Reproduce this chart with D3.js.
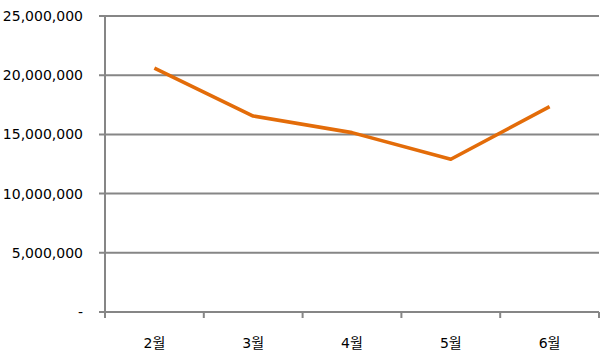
<!DOCTYPE html>
<html><head><meta charset="utf-8">
<script src="https://cdn.jsdelivr.net/npm/d3@7"></script>
<style>body{margin:0;background:#fff}svg{display:block}text{font-family:"DejaVu Sans","Noto Sans CJK KR",sans-serif;fill:#000}</style>
</head><body><svg id="c" width="608" height="361"></svg>
<script>
const categories = ["2월","3월","4월","5월","6월"];
const values = [20600000, 16550000, 15150000, 12900000, 17350000];
const yTicks = [0, 5000000, 10000000, 15000000, 20000000, 25000000];

const svg = d3.select("#c");
const L = 105, R = 599, T = 16, B = 312;
const x = d3.scaleBand().domain(categories).range([L, R]);
const y = d3.scaleLinear().domain([0, 25000000]).range([B, T]);
const grid = "#868686";

// gridlines
svg.append("g").selectAll("line").data(yTicks).join("line")
  .attr("x1", 99).attr("x2", R).attr("y1", d => y(d)).attr("y2", d => y(d))
  .attr("stroke", grid).attr("stroke-width", 2);

// y labels
svg.append("g").selectAll("text").data(yTicks).join("text")
  .attr("x", 83).attr("y", d => y(d)).attr("dy", "0.36em")
  .attr("text-anchor", "end").style("font-size", "14px")
  .text(d => d === 0 ? "-" : d3.format(",")(d));

// y axis line
svg.append("line").attr("x1", L).attr("x2", L).attr("y1", T).attr("y2", B + 6)
  .attr("stroke", grid).attr("stroke-width", 2);

// x axis with ticks
const xAxis = d3.axisBottom(x).tickSize(0).tickPadding(26);
const gx = svg.append("g").attr("transform", `translate(0,${B})`).call(xAxis);
gx.select(".domain").remove();
gx.selectAll("text").style("font-size", "14px").attr("fill", "#000")
  .style("font-family", "DejaVu Sans, Noto Sans CJK KR, sans-serif");
const bounds = categories.map(c => x(c)).concat([R]);
svg.append("g").selectAll("line").data(bounds).join("line")
  .attr("x1", d => d).attr("x2", d => d).attr("y1", B).attr("y2", B + 6)
  .attr("stroke", grid).attr("stroke-width", 2);

// line
const line = d3.line().x((d, i) => x(categories[i]) + x.bandwidth() / 2).y(d => y(d));
svg.append("path").datum(values).attr("d", line)
  .attr("fill", "none").attr("stroke", "#E36C09").attr("stroke-width", 3.6)
  .attr("stroke-linejoin", "round");
</script></body></html>
